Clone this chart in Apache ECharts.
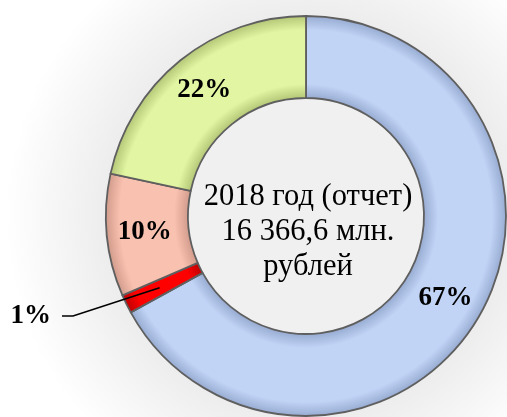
<!DOCTYPE html>
<html>
<head>
<meta charset="utf-8">
<script src="https://cdn.jsdelivr.net/npm/echarts@6/dist/echarts.min.js"></script>
<style>
    html, body { margin: 0; padding: 0; background: #fff; }
    #main { width: 507px; height: 417px; }
</style>
</head>
<body>
<div id="main"></div>
<script>
// доли по порядку, по часовой стрелке от 12 часов
var shares = [67.0, 1.5, 9.9, 21.6];
var shareLabels = ['67%', '1%', '10%', '22%'];
var centerLines = ['2018 год (отчет)', '16 366,6 млн.', 'рублей'];

var baseColors = ['#c1d4f6', '#ff0000', '#f9c1b0', '#e1f5a2'];
var edgeColors = ['#98acd2', '#c00000', '#d29c8c', '#b4c777'];

var cx = 306, cy = 216;

function bevel(i) {
    return {
        type: 'radial', x: cx, y: cy, r: 200, global: true,
        colorStops: [
            {offset: 0.59, color: edgeColors[i]},
            {offset: 0.66, color: baseColors[i]},
            {offset: 0.93, color: baseColors[i]},
            {offset: 1, color: edgeColors[i]}
        ]
    };
}

var ringData = [];
var pointerData = [];
for (var i = 0; i < shares.length; i++) {
    ringData.push({
        name: shareLabels[i],
        value: shares[i],
        itemStyle: {color: bevel(i)},
        label: {show: i !== 1}
    });
    pointerData.push({
        name: shareLabels[i],
        value: shares[i],
        label: {show: i === 1},
        labelLine: {show: i === 1}
    });
}

var labelFont = {
    fontFamily: 'Liberation Serif',
    fontWeight: 'bold',
    fontSize: 27,
    color: '#000'
};

var option = {
    // светлый ореол вокруг кольца
    backgroundColor: {
        type: 'radial', x: 0.604, y: 0.518, r: 0.72,
        colorStops: [
            {offset: 0.6, color: '#e9e9e9'},
            {offset: 1, color: '#ffffff'}
        ]
    },
    animation: false,
    graphic: [{
        type: 'text',
        x: 308,
        y: 232,
        z: 10,
        style: {
            text: centerLines.join('\n'),
            align: 'center',
            verticalAlign: 'middle',
            textAlign: 'center',
            textVerticalAlign: 'middle',
            font: '30.5px "Liberation Serif"',
            lineHeight: 35,
            fill: '#000'
        }
    }],
    series: [{
        // серый центр кольца
        type: 'pie',
        silent: true,
        z: 1,
        center: [cx, cy],
        radius: [0, 200],
        label: {show: false},
        labelLine: {show: false},
        itemStyle: {
            color: '#f0f0f0'
        },
        data: [{value: 1}]
    }, {
        type: 'pie',
        z: 2,
        center: [cx, cy],
        radius: [118, 200],
        startAngle: 90,
        avoidLabelOverlap: false,
        itemStyle: {
            borderColor: '#5f5f5f',
            borderWidth: 1.8
        },
        label: {
            position: 'inside',
            formatter: '{b}',
            fontFamily: labelFont.fontFamily,
            fontWeight: labelFont.fontWeight,
            fontSize: labelFont.fontSize,
            color: labelFont.color
        },
        labelLine: {show: false},
        data: ringData
    }, {
        // выноска для 1%
        type: 'pie',
        silent: true,
        z: 3,
        center: [cx, cy],
        radius: [0, 163],
        startAngle: 90,
        avoidLabelOverlap: false,
        itemStyle: {color: 'rgba(0,0,0,0)'},
        label: {
            position: 'outside',
            formatter: '{b}{gap|}',
            fontFamily: labelFont.fontFamily,
            fontWeight: labelFont.fontWeight,
            fontSize: labelFont.fontSize,
            color: labelFont.color,
            rich: {
                gap: {width: 11}
            }
        },
        labelLine: {
            length: 40,
            length2: 11,
            lineStyle: {color: '#000', width: 1.6}
        },
        labelLayout: function (params) {
            if (params.dataIndex === 1) {
                return {x: 62, y: 316, align: 'right', verticalAlign: 'middle'};
            }
        },
        data: pointerData
    }]
};

var myChart = echarts.init(document.getElementById('main'));
myChart.setOption(option);
</script>
</body>
</html>
